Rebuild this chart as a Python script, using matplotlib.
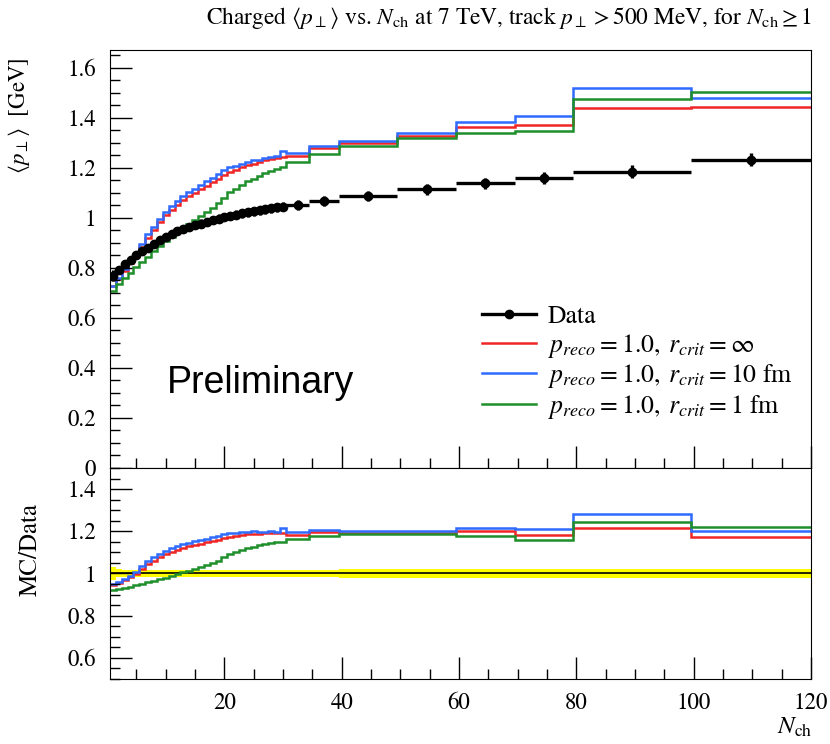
import numpy as np
import matplotlib
matplotlib.use('Agg')
import matplotlib.pyplot as plt
from matplotlib.lines import Line2D
from matplotlib.ticker import MultipleLocator, FixedLocator, FuncFormatter

plt.rcParams['font.family'] = 'STIXGeneral'
plt.rcParams['mathtext.fontset'] = 'stix'

# Nch binning: single-multiplicity bins up to 30, wider bins above
bin_edges = [0.5, 1.5, 2.5, 3.5, 4.5, 5.5, 6.5, 7.5, 8.5, 9.5, 10.5,
             11.5, 12.5, 13.5, 14.5, 15.5, 16.5, 17.5, 18.5, 19.5, 20.5,
             21.5, 22.5, 23.5, 24.5, 25.5, 26.5, 27.5, 28.5, 29.5, 30.5,
             34.5, 39.5, 49.5, 59.5, 69.5, 79.5, 99.5, 120.0]

# measured <pT> [GeV] per bin
data_mean = [0.768, 0.792, 0.813, 0.832, 0.849, 0.865, 0.880, 0.895, 0.910, 0.923,
             0.934, 0.945, 0.954, 0.962, 0.969, 0.976, 0.983, 0.990, 0.996, 1.002,
             1.007, 1.012, 1.017, 1.021, 1.025, 1.029, 1.033, 1.037, 1.041, 1.044,
             1.051, 1.068, 1.087, 1.113, 1.137, 1.159, 1.184, 1.231]
data_err = [0.022, 0.015, 0.014, 0.014, 0.014, 0.015, 0.015, 0.015, 0.015, 0.016,
            0.016, 0.016, 0.016, 0.016, 0.016, 0.017, 0.017, 0.017, 0.017, 0.017,
            0.017, 0.017, 0.017, 0.017, 0.018, 0.018, 0.018, 0.018, 0.018, 0.018,
            0.019, 0.020, 0.021, 0.022, 0.023, 0.024, 0.025, 0.026]

# MC predictions, colour reconnection settings
mc_rinf = [0.726, 0.756, 0.787, 0.817, 0.847, 0.884, 0.920, 0.950, 0.981, 1.009,
           1.030, 1.051, 1.069, 1.085, 1.099, 1.113, 1.128, 1.141, 1.154, 1.169,
           1.182, 1.192, 1.203, 1.212, 1.216, 1.223, 1.229, 1.236, 1.239, 1.243,
           1.245, 1.277, 1.297, 1.328, 1.364, 1.370, 1.437, 1.444]
mc_r10 = [0.728, 0.760, 0.793, 0.824, 0.853, 0.895, 0.934, 0.964, 0.995, 1.023,
          1.045, 1.068, 1.088, 1.102, 1.116, 1.130, 1.145, 1.160, 1.174, 1.189,
          1.202, 1.206, 1.216, 1.221, 1.229, 1.232, 1.238, 1.244, 1.246, 1.268,
          1.258, 1.288, 1.308, 1.338, 1.384, 1.405, 1.518, 1.477]
mc_r1 = [0.709, 0.735, 0.758, 0.779, 0.801, 0.823, 0.844, 0.865, 0.885, 0.905,
         0.924, 0.942, 0.960, 0.975, 0.990, 1.005, 1.022, 1.040, 1.057, 1.079,
         1.101, 1.115, 1.131, 1.145, 1.156, 1.167, 1.178, 1.186, 1.195, 1.202,
         1.222, 1.256, 1.288, 1.320, 1.340, 1.345, 1.475, 1.501]

mc_labels = [r'$p_{reco} = 1.0,\; r_{crit} = \infty$',
             r'$p_{reco} = 1.0,\; r_{crit} = 10$ fm',
             r'$p_{reco} = 1.0,\; r_{crit} = 1$ fm']
mc_colors = ['#f02626', '#2f6bff', '#1f8f2a']

edges = np.array(bin_edges)
centers = 0.5 * (edges[:-1] + edges[1:])
half_w = 0.5 * np.diff(edges)
data = np.array(data_mean)
err = np.array(data_err)

fig = plt.figure(figsize=(8.3, 7.44), dpi=100)
ax = fig.add_axes([0.1325, 0.371, 0.8446, 0.5618])
rax = fig.add_axes([0.1325, 0.0874, 0.8446, 0.2836], sharex=ax)

fs = 16.5
for a in (ax, rax):
    a.tick_params(which='major', direction='in', length=16, width=1, pad=10,
                  labelsize=fs, top=False, right=False)
    a.tick_params(which='minor', direction='in', length=7.5, width=1,
                  top=False, right=False)
    a.xaxis.set_major_locator(MultipleLocator(20))
    a.xaxis.set_minor_locator(MultipleLocator(5))
    a.yaxis.set_minor_locator(MultipleLocator(0.05))
    a.yaxis.set_major_formatter(FuncFormatter(lambda v, p: '%g' % v))

# main panel: MC histograms and data points
for vals, col in zip([mc_rinf, mc_r10, mc_r1], mc_colors):
    ax.stairs(vals, edges, color=col, lw=1.8, baseline=None)
ax.errorbar(centers, data, xerr=half_w, yerr=err, fmt='o', color='black',
            ms=6, lw=2.4, capsize=0, zorder=5)
ax.set_xlim(0.5, 120)
ax.set_ylim(0, 1.67)
ax.yaxis.set_major_locator(FixedLocator([0, 0.2, 0.4, 0.6, 0.8, 1.0, 1.2, 1.4, 1.6]))
ax.tick_params(labelbottom=False)

leg_handles = [Line2D([], [], color='black', marker='o', ms=6, lw=2.4)]
leg_handles += [Line2D([], [], color=c, lw=1.8) for c in mc_colors]
ax.legend(leg_handles, ['Data'] + mc_labels,
          loc='upper left', bbox_to_anchor=(0.531, 0.39), frameon=False,
          fontsize=18.5, handlelength=2.1, handletextpad=0.45, labelspacing=0.1,
          borderpad=0, borderaxespad=0)

ax.text(0.081, 0.203, 'Preliminary', transform=ax.transAxes,
        family='Liberation Sans', fontsize=27, va='center', ha='left')

# ratio panel: data uncertainty band and MC/Data
rax.stairs(1 + err / data, edges, baseline=1 - err / data, fill=True,
           color='#ffff00', lw=0)
rax.stairs(data / data, edges, color='black', lw=1.2, baseline=None)
for vals, col in zip([mc_rinf, mc_r10, mc_r1], mc_colors):
    rax.stairs(np.array(vals) / data, edges, color=col, lw=1.8, baseline=None)
rax.set_xlim(0.5, 120)
rax.set_ylim(0.5, 1.5)
rax.yaxis.set_major_locator(FixedLocator([0.6, 0.8, 1.0, 1.2, 1.4]))

fig.text(812 / 830, 1 - 18 / 744,
         r'Charged $\langle p_\perp \rangle$ vs. $N_\mathrm{ch}$ at 7 TeV, track $p_\perp > 500$ MeV, for $N_\mathrm{ch} \geq 1$',
         ha='right', va='center', fontsize=16.8)
fig.text(19 / 830, 1 - 58 / 744, r'$\langle p_\perp \rangle$  [GeV]',
         rotation=90, ha='center', va='top', fontsize=fs)
fig.text(31 / 830, 1 - 503 / 744, 'MC/Data',
         rotation=90, ha='center', va='top', fontsize=18)
fig.text(812 / 830, 1 - 728 / 744, r'$N_\mathrm{ch}$',
         ha='right', va='center', fontsize=18)

fig.savefig('out.png', dpi=100)
